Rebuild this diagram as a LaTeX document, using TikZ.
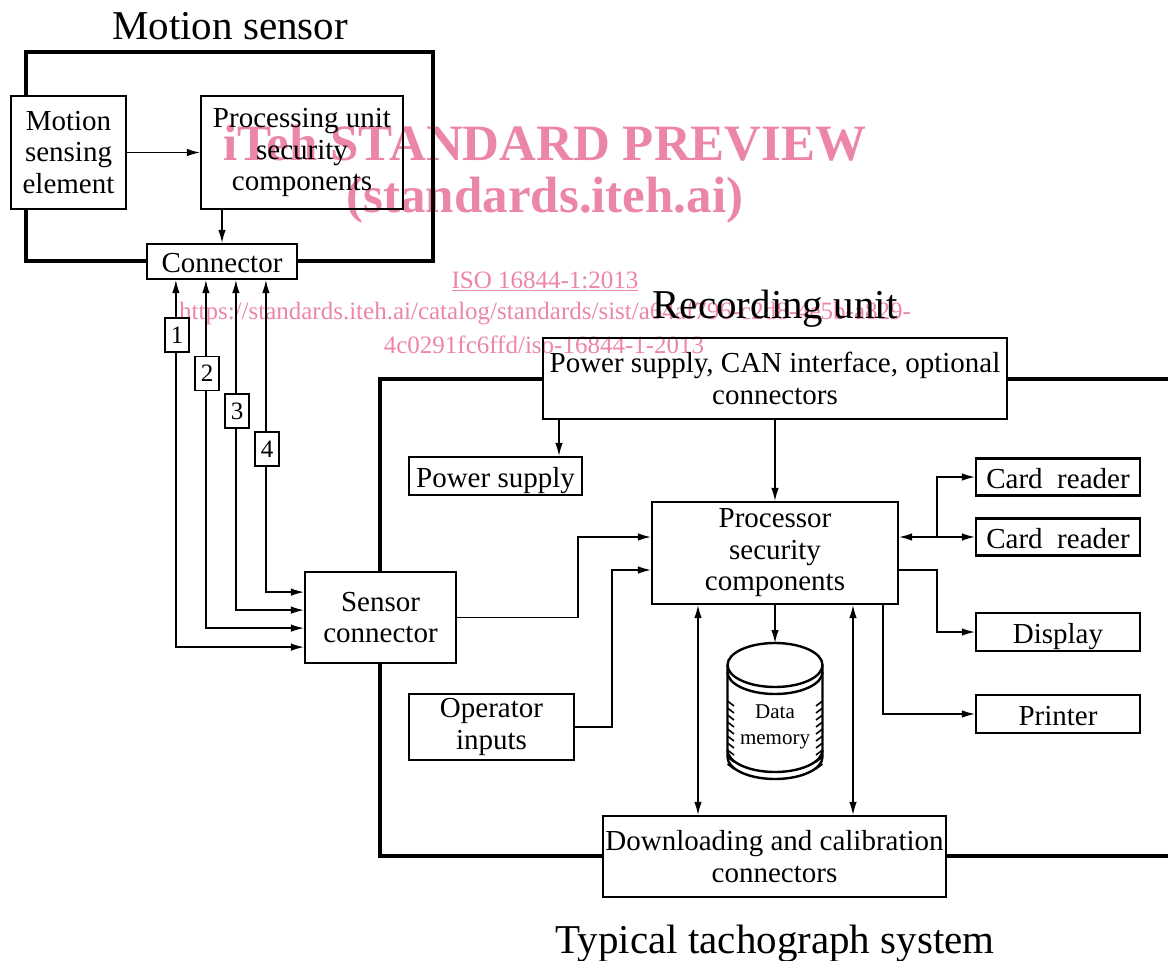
\documentclass[tikz,border=0pt]{standalone}
\usepackage{fontspec}
\setmainfont{Liberation Serif}
\usetikzlibrary{arrows.meta}
\definecolor{wm}{RGB}{236,134,166}
\begin{document}
\begin{tikzpicture}[x=1pt,y=-1pt,
  box/.style={draw, line width=2.2pt, inner sep=0pt, align=center, font=\fontsize{29}{31.5}\selectfont},
  one/.style={text height=24pt, text depth=2pt},
  conn/.style={line width=1.3pt, -{Latex[length=13pt,width=7.5pt]}},
  dbl/.style={line width=1.3pt, {Latex[length=13pt,width=7.5pt]}-{Latex[length=13pt,width=7.5pt]}},
  frame/.style={line width=4pt},
  title/.style={font=\fontsize{41}{45}\selectfont, inner sep=0pt},
  numbox/.style={draw, fill=white, line width=1.6pt, inner sep=0pt, minimum width=24, minimum height=34, font=\fontsize{25}{25}\selectfont},
  wmbig/.style={text=wm, inner sep=0pt, font=\bfseries\fontsize{51}{51}\selectfont},
  wmsmall/.style={text=wm, inner sep=0pt, font=\fontsize{25}{25}\selectfont},
  cyl/.style={line width=2.4pt},
  hatch/.style={line width=1.6pt}
]
\useasboundingbox (0,0) rectangle (1168,961);

% watermark
\node[wmbig] (wm1) at (545,143) {iTeh STANDARD PREVIEW};
\node[wmbig] (wm2) at (545,200) {(standards.iteh.ai)};
\node[wmsmall] (wm3) at (545,281) {\underline{ISO 16844-1:2013}};
\node[wmsmall] (wm4) at (545,313) {https://standards.iteh.ai/catalog/standards/sist/a64af796-c2d8-4e5b-a829-};
\node[wmsmall] (wm5) at (544,345) {4c0291fc6ffd/iso-16844-1-2013};

% titles
\node[title] (tms) at (230,26) {Motion sensor};
\node[title] (tru) at (775,309) {Recording unit};
\node[title] (tts) at (775,944) {Typical tachograph system};

% motion sensor
\node[box, minimum width=115, minimum height=113] (mse) at (68.5,152.5) {Motion\\sensing\\element};
\node[box, minimum width=202, minimum height=113] (pu) at (302,152.5) {Processing unit\\security\\components};
\node[box, one, minimum width=150, minimum height=35] (con) at (222,261.5) {Connector};

% recording unit
\node[box, minimum width=151, minimum height=91] (sc) at (380.5,617.5) {Sensor\\connector};
\node[box, minimum width=464, minimum height=81] (can) at (775,378.5) {Power supply, CAN interface, optional\\connectors};
\node[box, one, minimum width=173, minimum height=38] (ps) at (495.5,476) {Power supply};
\node[box, minimum width=246, minimum height=102] (proc) at (775,553) {Processor\\security\\components};
\node[box, minimum width=165, minimum height=66] (op) at (491.5,727) {Operator\\inputs};
\node[box, one, minimum width=164, minimum height=37] (cr1) at (1058,477) {Card\ \ reader};
\node[box, one, minimum width=164, minimum height=37] (cr2) at (1058,537) {Card\ \ reader};
\node[box, one, minimum width=164, minimum height=38] (disp) at (1058,632) {Display};
\node[box, one, minimum width=164, minimum height=38] (prn) at (1058,714) {Printer};
\node[box, minimum width=343, minimum height=81] (dl) at (774.5,856.5) {Downloading and calibration\\connectors};

% frames
\coordinate (f1) at (26,52);
\coordinate (f2) at (433,261);
\draw[frame] (f1 |- mse.north) -- (f1) -- (f1 -| f2) -- (f2) -- (con.east |- f2);
\draw[frame] (con.west |- f2) -- (f1 |- f2) -- (f1 |- mse.south);
\coordinate (r1) at (380,379);
\coordinate (r2) at (1168,856);
\draw[frame] (sc.north -| r1) -- (r1) -- (can.west |- r1);
\draw[frame] (can.east |- r1) -- (r1 -| r2);
\draw[frame] (sc.south -| r1) -- (r1 |- r2) -- (dl.west |- r2);
\draw[frame] (dl.east |- r2) -- (r2);

% motion sensor connectors
\draw[conn] (mse.east) -- (pu.west);
\draw[conn] (pu.south -| con.north) -- (con.north);
\draw[dbl] ([xshift=30pt]con.south west) |- ([yshift=17pt]sc.south west);
\draw[dbl] ([xshift=60pt]con.south west) |- ([yshift=36pt]sc.south west);
\draw[dbl] ([xshift=90pt]con.south west) |- ([yshift=54pt]sc.south west);
\draw[dbl] ([xshift=120pt]con.south west) |- ([yshift=72pt]sc.south west);
\node[numbox] (n1) at (177,335) {1};
\node[numbox] (n2) at (207,373.5) {2};
\node[numbox] (n3) at (237,411) {3};
\node[numbox] (n4) at (267,449) {4};

% recording unit connectors
\coordinate (xps) at (559,0);
\draw[conn] (can.south -| xps) -- (ps.north -| xps);
\draw[conn] (can.south) -- (proc.north);
\coordinate (j1) at (578,537);
\draw[conn] (sc.east) -| (j1) -- (proc.west |- j1);
\coordinate (j2) at (612,570);
\draw[conn] (op.east) -| (j2) -- (proc.west |- j2);
\draw[dbl] (proc.east |- cr2) -- (cr2.west);
\coordinate (j3) at (937,537);
\draw[conn] (j3) |- (cr1.west);
\coordinate (j4) at (937,570);
\draw[conn] (proc.east |- j4) -- (j4) |- (disp.west);
\coordinate (j5) at (883,0);
\draw[conn] (proc.south -| j5) |- (prn.west);
\coordinate (memtop) at (775,643);
\draw[conn] (proc.south) -- (memtop);
\coordinate (j6) at (698,0);
\coordinate (j7) at (853,0);
\draw[dbl] (proc.south -| j6) -- (dl.north -| j6);
\draw[dbl] (proc.south -| j7) -- (dl.north -| j7);

% data memory cylinder
\draw[cyl] (775,665) ellipse [x radius=47.5, y radius=22];
\draw[cyl] (822.5,672) arc[start angle=0, end angle=180, x radius=47.5, y radius=22];
\draw[cyl] (727.5,665) -- (727.5,757) arc[start angle=180, end angle=0, x radius=47.5, y radius=22] -- (822.5,665);
\draw[cyl] (822.5,750) arc[start angle=0, end angle=180, x radius=47.5, y radius=22];
\foreach \yy in {701,708,...,764} {
  \draw[hatch] (727.5,\yy) -- (734,\yy+5);
  \draw[hatch] (822.5,\yy) -- (816,\yy+5);
}
\node[inner sep=0pt, align=center, font=\fontsize{21}{26}\selectfont] (mem) at (775,727) {Data\\memory};
\end{tikzpicture}
\end{document}
